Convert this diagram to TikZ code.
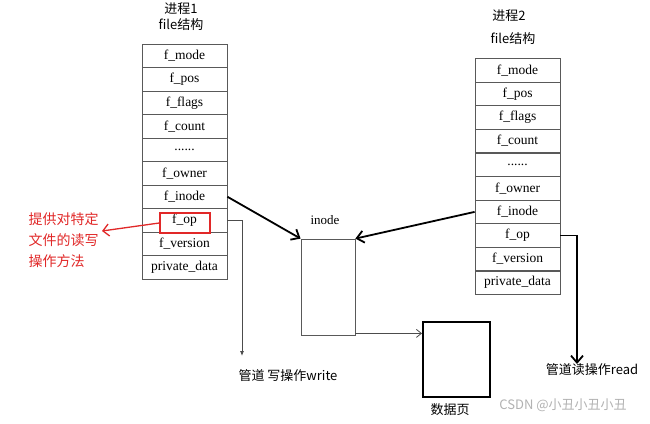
\documentclass[tikz,border=0pt]{standalone}
\usepackage{fontspec}
\setmainfont{Liberation Serif}
\newfontfamily\cjk{Noto Sans CJK SC}
\usetikzlibrary{arrows.meta}
\definecolor{redc}{RGB}{225,40,40}
\newcommand\sixdots{......}
\begin{document}
\begin{tikzpicture}[x=1pt,y=-1pt,
  cell/.style={draw=gray!70!black,line width=0.8pt,minimum width=85pt,minimum height=23.5pt,inner sep=0pt,font=\fontsize{13.5}{13.5}\selectfont},
  hdr/.style={font=\cjk\fontsize{13}{14}\selectfont},
  thick arr/.style={line width=1.8pt,-{Straight Barb[length=7pt,width=12pt]}},
  thin arr/.style={line width=0.8pt,draw=gray!60!black,-{Straight Barb[length=5pt,width=8pt]}},
  lbl/.style={font=\cjk\fontsize{13}{14}\selectfont}]
\useasboundingbox (0,0) rectangle (650,423);
\fill[white] (0,0) rectangle (650,423);
\foreach \t [count=\i] in {f\_mode,f\_pos,f\_flags,f\_count,\sixdots,f\_owner,f\_inode,f\_op,f\_version,private\_data}
  \node[cell] (L\i) at (184.5,{44+23.5*(\i-0.5)}) {\t};
\foreach \t [count=\i] in {f\_mode,f\_pos,f\_flags,f\_count,\sixdots,f\_owner,f\_inode,f\_op,f\_version,private\_data}
  \node[cell] (R\i) at (517.5,{58.5+23.6*(\i-0.5)}) {\t};
\node[hdr] (h1) at (181,9) {进程1};
\node[hdr] (h1b) at (181,25) {file结构};
\node[hdr] (h2) at (509,16) {进程2};
\node[hdr] (h2b) at (513,39) {file结构};
\node[draw=gray!70!black,line width=0.8pt,minimum width=54pt,minimum height=96pt,inner sep=0pt] (inode) at (328,287) {};
\node[font=\fontsize{13}{13}\selectfont] (inl) at (325,220) {inode};
\node[draw,line width=2pt,minimum width=67pt,minimum height=75pt,inner sep=0pt] (page) at (456.5,359.5) {};
\node[lbl] (pl) at (450,410) {数据页};
\node[draw=redc,line width=1.6pt,minimum width=50pt,minimum height=20pt,inner sep=0pt] (rb) at (185,223) {};
\node[lbl,font=\cjk\fontsize{14}{15}\selectfont,text=redc,align=left,anchor=west] (rt) at (25,240) {提供对特定\\[6pt]文件的读写\\[6pt]操作方法};
\coordinate (ra) at (102,231);
\draw[redc,line width=1.3pt,-{Straight Barb[length=6pt,width=12pt]}] (rb.west) -- (ra);
\draw[thick arr] (L7.east) -- (inode.north west);
\draw[thick arr] (R7.west) -- (inode.north east);
\node[lbl] (wl) at (288,376) {管道 写操作write};
\node[lbl] (rl) at (592,370) {管道读操作read};
\coordinate (wend) at (242,356);
\coordinate (rend) at (577,364);
\draw[line width=0.8pt,draw=gray!60!black,-{Latex[length=5pt,width=4pt]}] (L8.east) -| (wend);
\draw[thick arr] (R8.east) -| (rend);
\draw[thin arr] (inode.south east) ++(0,-2) coordinate (ib) -- (page.west |- ib);
\node[font=\cjk\fontsize{13}{14}\selectfont,text=gray!60] (wm) at (563,405) {CSDN @小丑小丑小丑};
\end{tikzpicture}
\end{document}
